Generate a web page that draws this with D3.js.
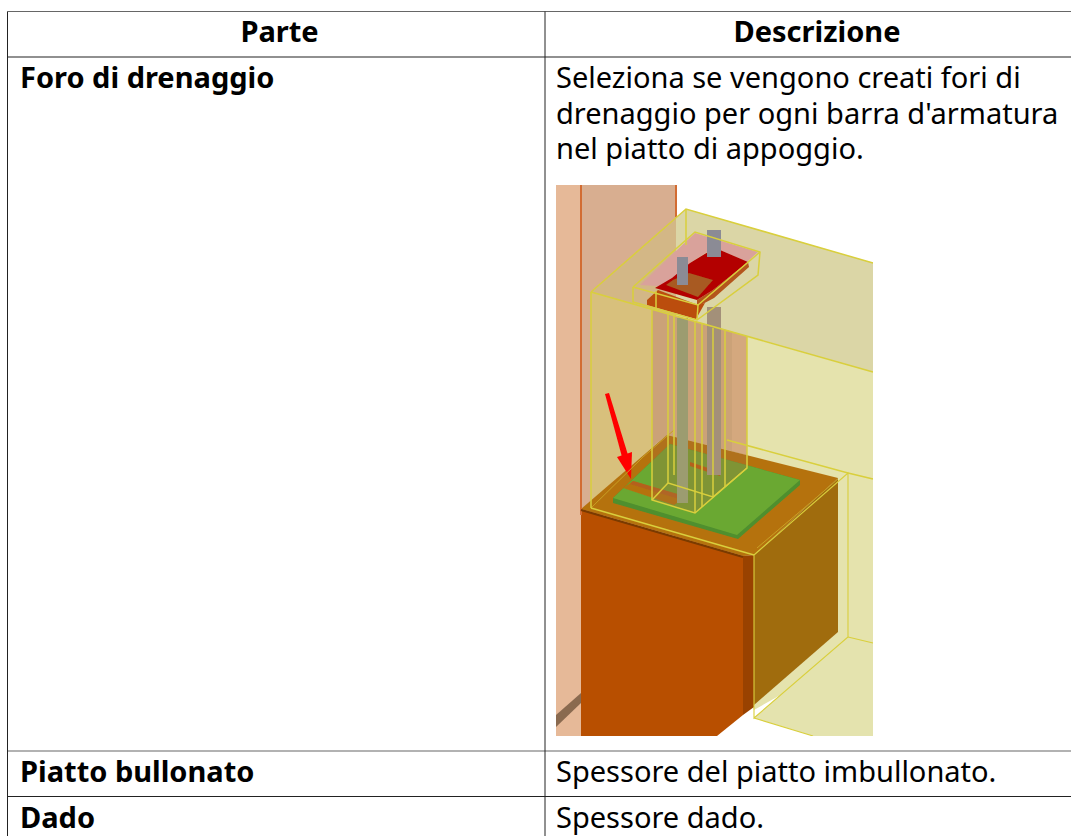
<!DOCTYPE html>
<html>
<head>
<meta charset="utf-8">
<script src="https://cdnjs.cloudflare.com/ajax/libs/d3/7.8.5/d3.min.js"></script>
<style>
  html, body { margin: 0; padding: 0; background: #fff; overflow: hidden; }
  svg { display: block; }
  text { font-family: "Noto Sans", sans-serif; font-size: 29px; fill: #000; }
  .bold { font-weight: 700; }
</style>
</head>
<body>
<svg id="chart" width="1071" height="836"></svg>
<script>
// table content
var headers = ["Parte", "Descrizione"];
var parts = ["Foro di drenaggio", "Piatto bullonato", "Dado"];
var descriptions = [
    ["Seleziona se vengono creati fori di", "drenaggio per ogni barra d'armatura", "nel piatto di appoggio."],
    ["Spessore del piatto imbullonato."],
    ["Spessore dado."]
];

// table grid
var column_edges = [7.5, 545, 1085];
var row_edges = [11.5, 57, 751, 796.5, 850];
var header_centres = [279.5, 817];

// picture in the first row, outlines in the picture's own pixels (317 x 551)
var wall_left = [[0,0],[25,0],[25,551],[0,551]];
var wall_right = [[25,0],[120,0],[120,330],[25,330]];
var box_top = [[120,33],[130,24],[317,78],[317,187],[120,131]];
var box_top_wall = [[35,107],[120,33],[120,131]];
var box_right = [[96,125],[317,187],[317,458],[198,525],[96,300]];
var floor_face = [[198,533],[292,452],[317,458],[317,551],[257,551]];
var box_left = [[35,107],[96,124],[96,320],[35,323]];
var column_face = [[96,124],[191,151],[191,270],[111,250],[96,262]];
var column_right = [[176,147],[191,151],[191,270],[176,266]];
var column_tint = [[96,262],[111,250],[191,270],[191,283],[139,328],[96,315]];
var block_top = [[25,324],[111,250],[282,293],[198,370],[187,371]];
var block_front = [[25,324],[187,371],[187,530],[161,551],[25,551]];
var block_edge = [[187,371],[198,370],[198,522],[187,530]];
var block_right = [[198,370],[282,293],[282,447],[198,520]];
var plate_shadow = [[57,313],[114,259],[244,295],[244,300],[182,354],[57,318]];
var plate_green = [[57,313],[114,259],[244,295],[181,350]];
var slot_edge = [[67,303],[77,296],[130,312],[118,320]];
var slot_hole = [[77,296],[125,310],[123,314],[74,299]];
var plate_stripe = [[134,277],[164,287],[164,291],[134,281]];
var rod_back = [[151,122],[165,122],[165,290],[151,290]];
var rod_front = [[121,133],[132,133],[132,318],[121,318]];
var plate_pink = [[139,48],[202,67],[191,77],[164,65],[151,67],[134,78],[117,102],[84,100]];
var plate_red = [[134,78],[152,67],[164,65],[192,77],[157,105],[141,115],[99,103],[116,93]];
var plate_side = [[192,77],[193,82],[158,113],[141,122],[141,115],[157,105]];
var plate_brown = [[117,95],[133,88],[157,95],[142,112],[110,100]];
var plate_front = [[91,115],[102,105],[142,120],[149,118],[140,134],[91,120]];
var stud_back = [[151,45],[165,45],[165,72],[151,72]];
var stud_front = [[121,72],[132,72],[132,100],[121,100]];
var bar_left = [[0,530],[25,508],[25,518],[0,542]];
var arrow_shaft = [[49,209],[53,208],[72,270],[66,272]];
var arrow_head = [[61,272],[76,267],[75,294]];

var fills = [
    [wall_left, "#e6b998", 1], [wall_right, "#d8ae90", 1], [box_top_wall, "#d3b786", 1], [box_top, "#dbd6a6", 1],
    [box_right, "#e5e3ad", 1], [floor_face, "#e4e3ae", 1], [box_left, "#d8c07c", 1],
    [column_face, "#cba278", 1], [column_right, "#d4a87e", 1], [block_top, "#b5720f", 1],
    [plate_shadow, "#4f8f2e", 1], [plate_green, "#6aa832", 1], [slot_edge, "#b5720f", 1], [slot_hole, "#b5601d", 1],
    [column_tint, "#a5703a", 0.35], [plate_stripe, "#b5601d", 1], [rod_back, "#a39079", 1], [rod_front, "#9c9c70", 1],
    [block_front, "#b85000", 1], [block_edge, "#994300", 1], [block_right, "#a06c10", 1], [bar_left, "#8a6a50", 1],
    [plate_pink, "#d9a29b", 1], [plate_side, "#b4551a", 1], [plate_red, "#b30000", 1], [plate_brown, "#a85a20", 1],
    [plate_front, "#bb4d10", 1], [stud_back, "#8b8b95", 1], [stud_front, "#8b8b95", 1],
    [arrow_shaft, "#ff0000", 1], [arrow_head, "#ff0000", 1]
];

// wire lines of the transparent box
var wires = [
    [[35,107],[130,24],[317,78]],
    [[35,107],[317,187]],
    [[35,107],[35,323]],
    [[130,24],[130,60]],
    [[96,124],[96,315],[139,328],[191,283],[191,151]],
    [[112,128],[112,298],[157,312],[191,283]],
    [[112,298],[96,315]],
    [[118,130],[118,290]],
    [[139,137],[139,328]],
    [[146,139],[146,322]],
    [[157,143],[157,312]],
    [[169,146],[169,302]],
    [[77,102],[139,47],[204,67],[202,90],[141,135],[77,117],[77,102]],
    [[77,102],[142,120],[204,67]],
    [[142,120],[141,135]],
    [[100,106],[100,125]],
    [[35,323],[198,370]],
    [[171,255],[292,288],[317,294]]
];
var thin_wires = [
    [[198,370],[292,288],[292,452],[198,533],[198,370]],
    [[198,533],[257,551]],
    [[292,452],[317,458]]
];
var brown_wires = [
    [[35,323],[87,272],[118,245]],
    [[201,363],[254,318],[282,294]]
];
var wall_lines = [[[25,0],[25,330]], [[120,0],[120,32]]];
var block_shadow = [[[25,325],[187,372]]];

var svg = d3.select("#chart");

var x = d3.scaleLinear().domain([0, 317]).range([556, 873]);
var y = d3.scaleLinear().domain([0, 551]).range([185, 736]);
var outline = d3.line().x(function(d) { return x(d[0]); }).y(function(d) { return y(d[1]); });

drawPicture();
drawTable();

function drawLines(g, name, data, colour, width) {
    g.selectAll("path." + name)
        .data(data)
        .enter().append("path")
        .attr("class", name)
        .attr("d", outline)
        .attr("fill", "none")
        .attr("stroke", colour)
        .attr("stroke-width", width);
}

function drawPicture() {
    // the source picture is a soft bitmap, so blur a little and clip to its edges
    var defs = svg.append("defs");
    defs.append("filter").attr("id", "soft")
        .append("feGaussianBlur").attr("stdDeviation", 0.5);
    defs.append("clipPath").attr("id", "frame")
        .append("rect")
        .attr("x", x(0)).attr("y", y(0))
        .attr("width", x(317) - x(0)).attr("height", y(551) - y(0));

    var g = svg.append("g").attr("clip-path", "url(#frame)")
        .append("g").attr("filter", "url(#soft)");
    g.selectAll("path.fill")
        .data(fills)
        .enter().append("path")
        .attr("class", "fill")
        .attr("d", function(d) { return outline(d[0]) + "Z"; })
        .attr("fill", function(d) { return d[1]; })
        .attr("fill-opacity", function(d) { return d[2]; });
    drawLines(g, "wall", wall_lines, "#d26c30", 2);
    drawLines(g, "shadow", block_shadow, "#7a3a00", 2);
    drawLines(g, "brown", brown_wires, "#c8a024", 1);
    drawLines(g, "thin", thin_wires, "#d9cf3c", 1.1);
    drawLines(g, "wire", wires, "#d9cf3c", 1.5);
}

function drawTable() {
    // grid lines
    svg.selectAll("line.row")
        .data(row_edges)
        .enter().append("line")
        .attr("class", "row")
        .attr("x1", column_edges[0]).attr("x2", 1071)
        .attr("y1", function(d) { return d; }).attr("y2", function(d) { return d; })
        .attr("stroke", function(d, i) { return (i == 0 || i == 2) ? "#666" : "#222"; })
        .attr("stroke-width", 1.2);
    svg.selectAll("line.col")
        .data(column_edges.slice(0, 2))
        .enter().append("line")
        .attr("class", "col")
        .attr("x1", function(d) { return d; }).attr("x2", function(d) { return d; })
        .attr("y1", row_edges[0]).attr("y2", 836)
        .attr("stroke", "#222")
        .attr("stroke-width", 1);

    // headers, centred over the columns
    svg.selectAll("text.head")
        .data(headers)
        .enter().append("text")
        .attr("class", "head bold")
        .attr("text-anchor", "middle")
        .attr("x", function(d, i) { return header_centres[i]; })
        .attr("y", row_edges[0] + 30)
        .text(function(d) { return d; });

    // left column
    svg.selectAll("text.part")
        .data(parts)
        .enter().append("text")
        .attr("class", "part bold")
        .attr("x", 20)
        .attr("y", function(d, i) { return row_edges[i + 1] + 31; })
        .text(function(d) { return d; });

    // right column, one text per line
    descriptions.forEach(function(lines, r) {
        svg.selectAll("text.desc" + r)
            .data(lines)
            .enter().append("text")
            .attr("class", "desc" + r)
            .attr("x", 556)
            .attr("y", function(d, i) { return row_edges[r + 1] + 31 + i * 35.7; })
            .text(function(d) { return d; });
    });
}
</script>
</body>
</html>
